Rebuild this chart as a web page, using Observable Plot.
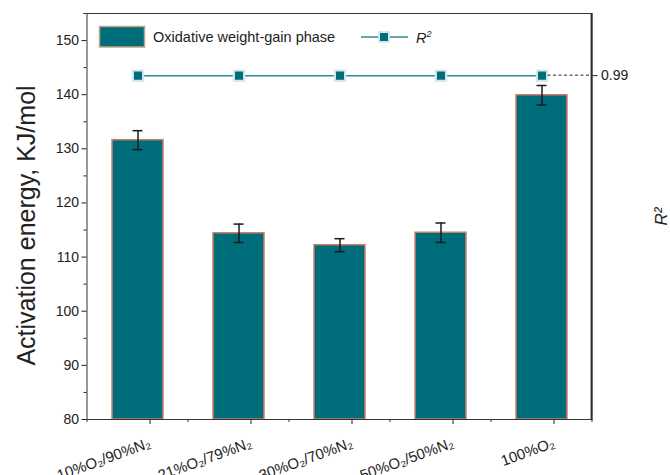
<!DOCTYPE html>
<html>
<head>
<meta charset="utf-8">
<script src="https://cdn.jsdelivr.net/npm/d3@7"></script>
<script src="https://cdn.jsdelivr.net/npm/@observablehq/plot@0.6"></script>
<style>
  body { margin: 0; background: #fff; }
  #chart { width: 670px; height: 475px; }
</style>
</head>
<body>
<div id="chart"></div>
<script>
// Atmosphere compositions (x categories)
const categories = ["10%O₂/90%N₂", "21%O₂/79%N₂", "30%O₂/70%N₂", "50%O₂/50%N₂", "100%O₂"];
// Activation energy of the oxidative weight-gain phase, KJ/mol
const activationEnergy = [131.6, 114.4, 112.2, 114.5, 139.9];
// Half-length of the error bars, KJ/mol
const errorHalf = [1.75, 1.7, 1.2, 1.8, 1.8];
// Fit quality of each run
const r2Values = [0.99, 0.99, 0.99, 0.99, 0.99];
// Left axis
const yDomain = [80, 155];
const yTicks = [80, 90, 100, 110, 120, 130, 140, 150];
const yMinorTicks = [85, 95, 105, 115, 125, 135, 145, 155];
// Right (R²) axis span, aligned with the left axis span
const r2Domain = [0.907, 1.005];
const r2Ticks = [0.99];

const FONT = '"Liberation Sans", Arial, Helvetica, sans-serif';
const TEAL = "#006d7a";
const BAR_EDGE = "#d27c68";
const LINE_TEAL = "#2b8b99";
const INK = "#222";

// map an R² value onto the left-axis units so both share one y scale
const r2ToY = r => yDomain[0] + (r - r2Domain[0]) / (r2Domain[1] - r2Domain[0]) * (yDomain[1] - yDomain[0]);
const yToR2 = v => r2Domain[0] + (v - yDomain[0]) / (yDomain[1] - yDomain[0]) * (r2Domain[1] - r2Domain[0]);

const rows = categories.map((cat, i) => ({
  cat,
  e: activationEnergy[i],
  lo: activationEnergy[i] - errorHalf[i],
  hi: activationEnergy[i] + errorHalf[i],
  r2y: r2ToY(r2Values[i])
}));

// minor x ticks on band boundaries, right axis line, dashed R² guide and the in-frame legend
function extras(index, scales, values, dims) {
  const x = scales.x, y = scales.y;
  const g = d3.create("svg:g").attr("text-anchor", "start");
  const bw = x.bandwidth(), step = x.step();
  const y0 = dims.height - dims.marginBottom;
  const xRight = dims.width - dims.marginRight;
  const bounds = categories.map(c => x(c) + bw / 2 - step / 2).concat([x(categories[categories.length - 1]) + bw / 2 + step / 2]);
  g.selectAll("line.minor").data(bounds).join("line")
    .attr("x1", d => d).attr("x2", d => d)
    .attr("y1", y0).attr("y2", y0 + 3)
    .attr("stroke", "#333").attr("stroke-width", 1);

  // heavier right axis line
  g.append("line")
    .attr("x1", xRight).attr("x2", xRight)
    .attr("y1", dims.marginTop).attr("y2", y0)
    .attr("stroke", "#2a2a2a").attr("stroke-width", 1.8);

  // dashed guide from the last R² point to the right axis
  const last = rows[rows.length - 1];
  g.append("line")
    .attr("x1", x(last.cat) + bw / 2 + 6).attr("x2", xRight)
    .attr("y1", y(last.r2y)).attr("y2", y(last.r2y))
    .attr("stroke", "#222").attr("stroke-width", 1).attr("stroke-dasharray", "3,2.5");

  // legend
  const lg = g.append("g").attr("font-family", FONT).attr("font-size", 14.5).attr("fill", INK);
  lg.append("rect").attr("x", 99.5).attr("y", 26.5).attr("width", 45).attr("height", 20.5)
    .attr("fill", TEAL).attr("stroke", "#c2a584").attr("stroke-width", 1.5);
  lg.append("text").attr("x", 153).attr("y", 42).text("Oxidative weight-gain phase");
  lg.append("line").attr("x1", 361).attr("x2", 408).attr("y1", 37).attr("y2", 37)
    .attr("stroke", LINE_TEAL).attr("stroke-width", 1.5);
  lg.append("rect").attr("x", 379).attr("y", 32).attr("width", 10).attr("height", 10)
    .attr("fill", TEAL).attr("stroke", "#d6e8eb").attr("stroke-width", 2);
  const r2 = lg.append("text").attr("x", 416).attr("y", 42.5).attr("font-style", "italic");
  r2.append("tspan").text("R");
  r2.append("tspan").attr("font-size", 9).attr("dy", -6).text("2");
  return g.node();
}

const chart = Plot.plot({
  width: 670,
  height: 475,
  marginLeft: 86.5,
  marginRight: 78.5,
  marginTop: 13,
  marginBottom: 56,
  style: { fontFamily: FONT, fontSize: "14px", color: INK, background: "#fff" },
  x: { type: "band", domain: categories, paddingInner: 0.5, paddingOuter: 0.25, align: 0.5 },
  y: { domain: yDomain },
  marks: [
    Plot.barY(rows, { x: "cat", y1: yDomain[0], y2: "e", fill: TEAL, stroke: BAR_EDGE, strokeWidth: 1.5 }),
    Plot.ruleX(rows, { x: "cat", y1: "lo", y2: "hi", stroke: "#1a1a1a", strokeWidth: 1.5 }),
    Plot.tickY(rows, { x: "cat", y: "lo", insetLeft: 20.5, insetRight: 20.5, stroke: "#1a1a1a", strokeWidth: 1.5 }),
    Plot.tickY(rows, { x: "cat", y: "hi", insetLeft: 20.5, insetRight: 20.5, stroke: "#1a1a1a", strokeWidth: 1.5 }),
    Plot.line(rows, { x: "cat", y: "r2y", stroke: LINE_TEAL, strokeWidth: 1.5 }),
    Plot.dot(rows, { x: "cat", y: "r2y", symbol: "square", r: 5.8, fill: TEAL, stroke: "#d6e8eb", strokeWidth: 2.2 }),
    Plot.axisY({ ticks: yTicks, tickSize: 5, tickPadding: 3, label: null, fontSize: 14 }),
    Plot.axisY({ ticks: yMinorTicks, tickSize: 3, tickFormat: () => "", label: null }),
    Plot.axisY(r2Ticks.map(r2ToY), { anchor: "right", tickSize: 5, tickPadding: 4, tickFormat: v => yToR2(v).toFixed(2), label: null, fontSize: 14 }),
    Plot.axisX({ tickSize: 5, tickRotate: -20, tickPadding: 18, label: null, fontSize: 15, dx: 12 }),
    Plot.frame({ stroke: "#333", strokeWidth: 1 }),
    Plot.text(["Activation energy, KJ/mol"], { frameAnchor: "left", textAnchor: "middle", dx: -60, dy: 9, rotate: -90, fontSize: 25, fill: INK }),
    Plot.text(["R²"], { frameAnchor: "right", textAnchor: "middle", dx: 70, rotate: -90, fontSize: 17, fontStyle: "italic", fill: INK }),
    extras
  ]
});

document.getElementById("chart").append(chart);
</script>
</body>
</html>
